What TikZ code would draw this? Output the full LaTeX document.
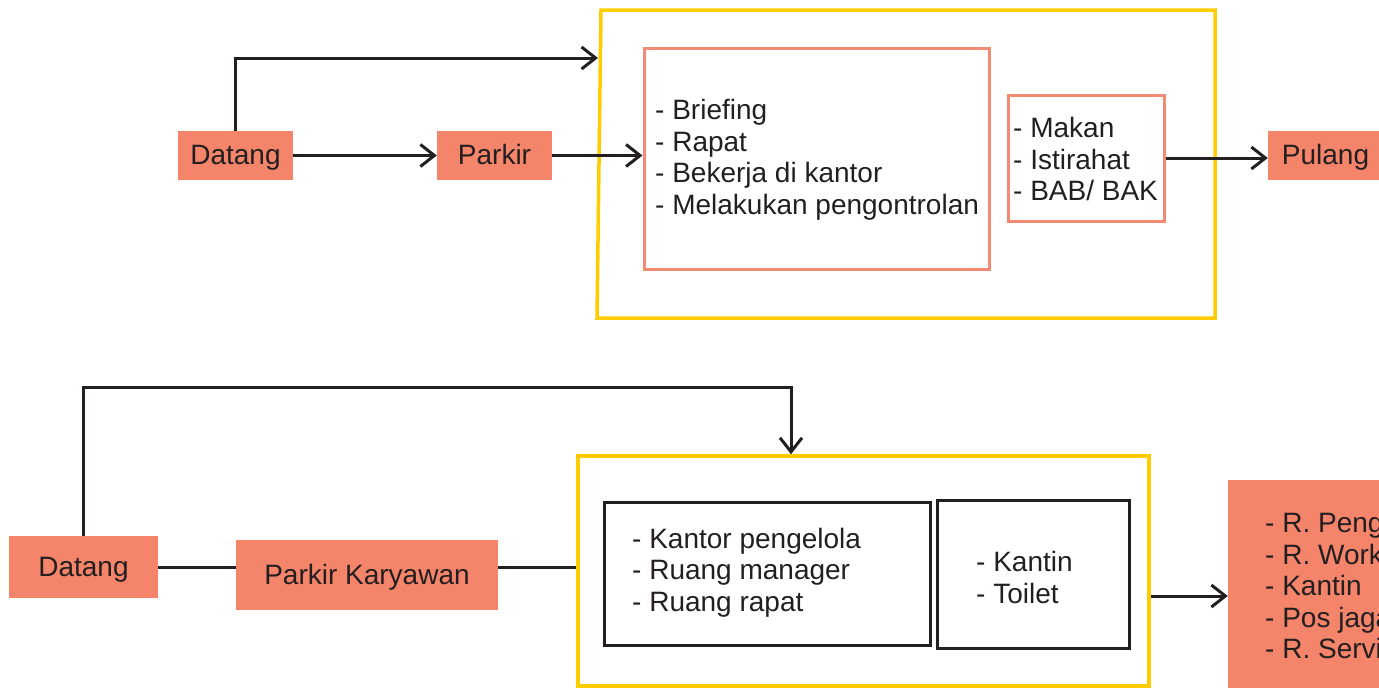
\documentclass[tikz,border=0pt]{standalone}
\usepackage{fontspec}
\setmainfont{Liberation Sans}
\usetikzlibrary{arrows.meta}
\definecolor{salmon}{RGB}{244,132,106}
\definecolor{salmonline}{RGB}{242,138,116}
\definecolor{gold}{RGB}{255,204,0}
\definecolor{ink}{RGB}{35,31,32}
\begin{document}
\begin{tikzpicture}[x=1pt,y=-1pt,
  every node/.style={font=\fontsize{28}{31.5}\selectfont, text=ink, inner sep=0},
  tag/.style={fill=salmon, draw=none, text height=20pt, text depth=2pt},
  softbox/.style={draw=salmonline, line width=3pt},
  darkbox/.style={draw=ink, line width=3pt},
  frame/.style={draw=gold, line width=3.5pt},
  link/.style={draw=ink, line width=3pt},
  arr/.style={link, -{Straight Barb[length=14pt,width=22pt]}},
  list/.style={anchor=west, align=left}]
\useasboundingbox (0,0) rectangle (1379,688);

% ---- daily activity flow ----
\node[tag, minimum width=115, minimum height=49] (datangA) at (235.5,155.5) {Datang};
\node[tag, minimum width=115, minimum height=49] (parkirA) at (494.5,155.5) {Parkir};
\draw[frame] (601,10) -- (1215,10) -- (1215,318) -- (597,318) -- cycle;
\coordinate (frameA) at (598,58);
\node[softbox, minimum width=345, minimum height=221] (kegiatan) at (816.5,158.5) {};
\node[list] (kegiatanT) at (655,160) {- Briefing\\- Rapat\\- Bekerja di kantor\\- Melakukan pengontrolan};
\node[softbox, minimum width=156, minimum height=126] (rehat) at (1086,158) {};
\node[list] (rehatT) at (1013,159) {- Makan\\- Istirahat\\- BAB/ BAK};
\node[tag, minimum width=115, minimum height=49] (pulang) at (1325.5,155.5) {Pulang};

\draw[arr] (datangA.east) -- (parkirA.west);
\draw[arr] (datangA.north) |- (frameA);
\draw[arr] (parkirA.east) -- (parkirA.east -| kegiatan.west);
\draw[arr] (rehat.east) -- (rehat.east -| pulang.west);

% ---- space zoning flow ----
\node[tag, minimum width=149, minimum height=62] (datangB) at (83.5,567) {Datang};
\node[tag, minimum width=262, minimum height=70] (parkirB) at (367,575) {Parkir Karyawan};
\node[frame, minimum width=571, minimum height=230] (areaB) at (863.5,571) {};
\node[darkbox, minimum width=326, minimum height=143] (kantor) at (767,573.5) {};
\node[list] (kantorT) at (632,572.5) {- Kantor pengelola\\- Ruang manager\\- Ruang rapat};
\node[darkbox, minimum width=192, minimum height=148] (kantin) at (1033,574) {};
\node[list] (kantinT) at (976,577.5) {- Kantin\\- Toilet};
\node[tag, minimum width=172, minimum height=220, text height=, text depth=] (ruang) at (1314,590) {};
\node[list] (ruangT) at (1265,586) {- R. Peng\\- R. Work\\- Kantin\\- Pos jaga\\- R. Servi};

\draw[link] (datangB.east) -- (datangB.east -| parkirB.west);
\draw[link] (datangB.east -| parkirB.east) -- (datangB.east -| areaB.west);
\draw[arr] (datangB.north) |- ([xshift=-72.5pt,yshift=67pt]areaB.north) -- ([xshift=-72.5pt]areaB.north);
\draw[arr] ([yshift=-25pt]areaB.east) -- ([yshift=-25pt]areaB.east -| ruang.west);
\end{tikzpicture}
\end{document}
